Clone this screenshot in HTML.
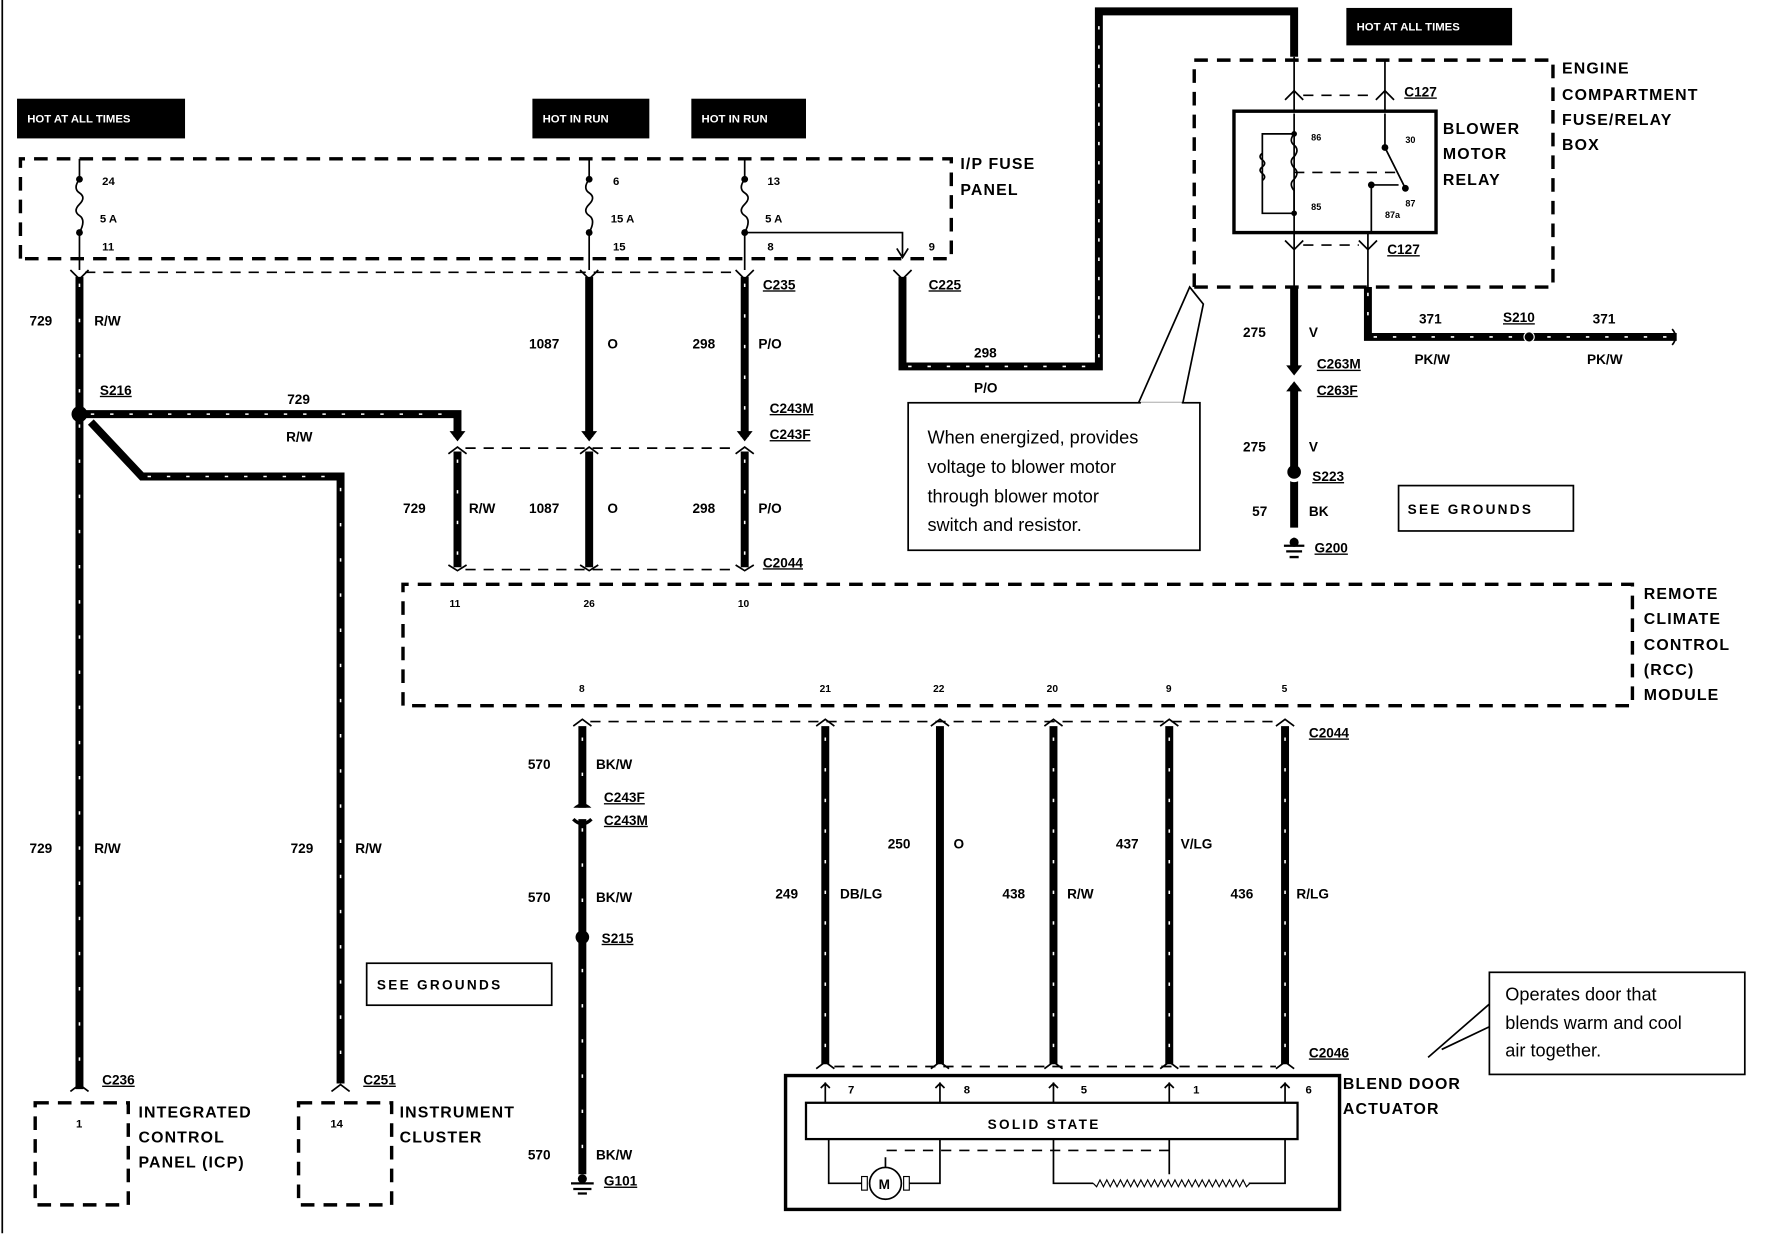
<!DOCTYPE html>
<html><head><meta charset="utf-8"><style>
html,body{margin:0;padding:0;background:#fff}
svg{display:block}
text{font-family:"Liberation Sans",sans-serif;font-weight:bold;fill:#000}
.w{fill:none;stroke:#000;stroke-width:7}
.h{fill:none;stroke:#fff;stroke-width:1.4;stroke-dasharray:3 14}
.t{fill:none;stroke:#000;stroke-width:1.5}
.d{fill:none;stroke:#000;stroke-width:3;stroke-dasharray:12 8}
.dd{fill:none;stroke:#000;stroke-width:1.5;stroke-dasharray:9 7}
.s{font-size:12px}
.xs{font-size:10px}
.u{text-decoration:underline}
.lb{font-size:14px;letter-spacing:1px}
.n{font-family:"Liberation Sans",sans-serif;font-weight:normal;font-size:16px}
</style></head><body>
<svg width="1780" height="1248" viewBox="0 0 1568 1100" preserveAspectRatio="none" xmlns="http://www.w3.org/2000/svg">
<line x1="2" y1="0" x2="2" y2="1087" class="t"/>
<rect x="15" y="87" width="148" height="35" fill="#000"/><text x="24" y="108" class="xs" style="fill:#fff">HOT AT ALL TIMES</text>
<rect x="469" y="87" width="103" height="35" fill="#000"/><text x="478" y="108" class="xs" style="fill:#fff">HOT IN RUN</text>
<rect x="609" y="87" width="101" height="35" fill="#000"/><text x="618" y="108" class="xs" style="fill:#fff">HOT IN RUN</text>
<rect x="1186" y="7" width="146" height="33" fill="#000"/><text x="1195" y="27" class="xs" style="fill:#fff">HOT AT ALL TIMES</text>
<path d="M18 228 V140 H838 V228 H18" class="d"/>
<text x="846" y="149" class="lb">I/P FUSE</text><text x="846" y="172" class="lb">PANEL</text>
<g>
<path d="M70 140 V158 q-6 8 0 12 q6 4 0 10 q-6 6 0 10 q6 4 0 15 V238" class="t"/>
<path d="M519 140 V158 q-6 8 0 12 q6 4 0 10 q-6 6 0 10 q6 4 0 15 V238" class="t"/>
<path d="M656 140 V158 q-6 8 0 12 q6 4 0 10 q-6 6 0 10 q6 4 0 15 V238" class="t"/>
<circle cx="70" cy="158" r="3"/><circle cx="70" cy="205" r="3"/>
<circle cx="519" cy="158" r="3"/><circle cx="519" cy="205" r="3"/>
<circle cx="656" cy="158" r="3"/><circle cx="656" cy="205" r="3"/>
<path d="M656 205 H795 V226 M790 219 L795 227 L800 219" class="t"/>
<text x="90" y="163" class="xs">24</text><text x="88" y="196" class="xs">5 A</text><text x="90" y="221" class="xs">11</text>
<text x="540" y="163" class="xs">6</text><text x="538" y="196" class="xs">15 A</text><text x="540" y="221" class="xs">15</text>
<text x="676" y="163" class="xs">13</text><text x="674" y="196" class="xs">5 A</text><text x="676" y="221" class="xs">8</text>
<text x="818" y="221" class="xs">9</text>
</g>
<line x1="75" y1="240" x2="650" y2="240" class="dd"/>
<g class="t"><path d="M62 238 l8 8 l8 -8"/><path d="M511 238 l8 8 l8 -8"/><path d="M648 238 l8 8 l8 -8"/><path d="M787 238 l8 8 l8 -8"/></g>
<text x="672" y="255" class="s u">C235</text><text x="818" y="255" class="s u">C225</text>
<path d="M70 244 V960" class="w"/><path d="M70 250 V955" class="h" style="stroke-dasharray:3 28"/>
<path d="M519 244 V385" class="w"/><path d="M519 398 V500" class="w"/>
<path d="M656 244 V385" class="w"/><path d="M656 250 V385" class="h" style="stroke-dasharray:3 24"/>
<path d="M656 398 V500" class="w"/><path d="M656 405 V500" class="h" style="stroke-dasharray:3 24"/>
<path d="M403 398 V500" class="w"/><path d="M403 405 V500" class="h" style="stroke-dasharray:3 24"/>
<g fill="#000"><path d="M512 380 h14 l-7 9z"/><path d="M649 380 h14 l-7 9z"/><path d="M396 380 h14 l-7 9z"/></g>
<line x1="410" y1="395" x2="650" y2="395" class="dd"/>
<g class="t"><path d="M395 400 l8 -6 l8 6"/><path d="M511 400 l8 -6 l8 6"/><path d="M648 400 l8 -6 l8 6"/><path d="M395 498 l8 5 l8 -5"/><path d="M511 498 l8 5 l8 -5"/><path d="M648 498 l8 5 l8 -5"/></g>
<line x1="410" y1="502" x2="650" y2="502" class="dd"/>
<circle cx="70" cy="365" r="7"/>
<path d="M74 365 H403 V385" class="w"/><path d="M80 365 H400" class="h"/>
<path d="M80 372 L125 420 H300 V955" class="w"/><path d="M130 420 H296" class="h"/><path d="M300 430 V950" class="h" style="stroke-dasharray:3 28"/>
<path d="M795 244 V323 H968 V10 H1140 V50" class="w"/><path d="M800 323 H963 M968 315 V15 H1135" class="h"/>
<text x="26" y="287" class="s">729</text><text x="83" y="287" class="s">R/W</text>
<text x="88" y="348" class="s u">S216</text>
<text x="253" y="356" class="s">729</text><text x="252" y="389" class="s">R/W</text>
<text x="466" y="307" class="s">1087</text><text x="535" y="307" class="s">O</text>
<text x="610" y="307" class="s">298</text><text x="668" y="307" class="s">P/O</text>
<text x="678" y="364" class="s u">C243M</text><text x="678" y="387" class="s u">C243F</text>
<text x="355" y="452" class="s">729</text><text x="413" y="452" class="s">R/W</text>
<text x="466" y="452" class="s">1087</text><text x="535" y="452" class="s">O</text>
<text x="610" y="452" class="s">298</text><text x="668" y="452" class="s">P/O</text>
<text x="672" y="500" class="s u">C2044</text>
<text x="858" y="315" class="s">298</text><text x="858" y="346" class="s">P/O</text>
<path d="M1052 253 V53 H1368 V253 H1052" class="d"/>
<text x="1376" y="65" class="lb">ENGINE</text><text x="1376" y="88" class="lb">COMPARTMENT</text><text x="1376" y="110" class="lb">FUSE/RELAY</text><text x="1376" y="132" class="lb">BOX</text>
<rect x="1087" y="98" width="178" height="107" fill="none" stroke="#000" stroke-width="3"/>
<text x="1271" y="118" class="lb">BLOWER</text><text x="1271" y="140" class="lb">MOTOR</text><text x="1271" y="163" class="lb">RELAY</text>
<path d="M1140 50 V98 M1220 53 V98" class="t"/>
<path d="M1132 88 l8 -8 l8 8 M1212 88 l8 -8 l8 8" class="t"/>
<line x1="1148" y1="84" x2="1212" y2="84" class="dd"/>
<text x="1237" y="85" class="s u">C127</text>
<path d="M1140 100 V205 M1140 118 H1112 V188 H1140" class="t"/>
<path d="M1140 118 q-5 6 0 10 q5 4 0 10 q-5 4 0 10 q5 4 0 10 q-5 4 0 10 V188" class="t"/>
<path d="M1112 135 q-4 3 0 6 q4 3 0 6 q-4 3 0 6 q4 3 0 6" class="t"/>
<circle cx="1140" cy="118" r="2.5"/><circle cx="1140" cy="188" r="2.5"/>
<path d="M1220 100 V130 L1238 166" class="t"/><circle cx="1220" cy="130" r="3"/><circle cx="1238" cy="166" r="3"/>
<line x1="1140" y1="152" x2="1230" y2="152" class="dd"/>
<path d="M1208 205 V163 M1208 163 H1232" class="t"/><circle cx="1208" cy="163" r="3"/>
<text x="1155" y="124" style="font-size:8px">86</text><text x="1238" y="126" style="font-size:8px">30</text>
<text x="1155" y="185" style="font-size:8px">85</text><text x="1238" y="182" style="font-size:8px">87</text><text x="1220" y="192" style="font-size:8px">87a</text>
<path d="M1140 205 V253 M1205 205 V253" class="t"/>
<path d="M1132 212 l8 8 l8 -8 M1197 212 l8 8 l8 -8" class="t"/>
<line x1="1148" y1="216" x2="1197" y2="216" class="dd"/>
<text x="1222" y="224" class="s u">C127</text>
<path d="M1140 253 V325" class="w"/><path d="M1140 340 V465" class="w"/>
<path d="M1133 322 h14 l-7 9z"/><path d="M1133 345 h14 l-7 -9z"/>
<circle cx="1140" cy="418" r="7" fill="#fff"/><circle cx="1140" cy="416" r="6"/>
<path d="M1205 253 V297 H1477" class="w"/><path d="M1205 258 V292 M1210 297 H1470" class="h"/>
<circle cx="1347" cy="297" r="5" fill="#fff"/><circle cx="1347" cy="297" r="4"/>
<path d="M1473 290 q6 7 0 14" class="t"/>
<text x="1095" y="297" class="s">275</text><text x="1153" y="297" class="s">V</text>
<text x="1160" y="325" class="s u">C263M</text><text x="1160" y="348" class="s u">C263F</text>
<text x="1095" y="398" class="s">275</text><text x="1153" y="398" class="s">V</text>
<text x="1156" y="424" class="s u">S223</text>
<text x="1103" y="455" class="s">57</text><text x="1153" y="455" class="s">BK</text>
<path d="M1131 481 h18 M1133 486 h14 M1136 491 h8 M1140 474 V481" class="t" style="stroke-width:2"/><circle cx="1140" cy="478" r="4"/>
<text x="1158" y="487" class="s u">G200</text>
<text x="1250" y="285" class="s">371</text><text x="1324" y="284" class="s u">S210</text><text x="1403" y="285" class="s">371</text>
<text x="1246" y="321" class="s">PK/W</text><text x="1398" y="321" class="s">PK/W</text>
<rect x="1232" y="428" width="154" height="40" fill="none" stroke="#000" stroke-width="1.5"/><text x="1240" y="453" class="s" style="letter-spacing:2px">SEE GROUNDS</text>
<path d="M1003 355 L1048 253 L1060 268 L1042 355" class="t"/>
<rect x="800" y="355" width="257" height="130" fill="#fff" stroke="#000" stroke-width="1.5"/>
<path d="M1005 356 H1041" stroke="#fff" stroke-width="3"/>
<text x="817" y="391" class="n">When energized, provides</text>
<text x="817" y="417" class="n">voltage to blower motor</text>
<text x="817" y="443" class="n">through  blower motor</text>
<text x="817" y="468" class="n">switch and resistor.</text>
<path d="M355 622 V515 H1438 V622 H355" class="d"/>
<text x="1448" y="528" class="lb">REMOTE</text><text x="1448" y="550" class="lb">CLIMATE</text><text x="1448" y="573" class="lb">CONTROL</text><text x="1448" y="595" class="lb">(RCC)</text><text x="1448" y="617" class="lb">MODULE</text>
<g style="font-size:9px"><text x="396" y="535">11</text><text x="514" y="535">26</text><text x="650" y="535">10</text>
<text x="510" y="610">8</text><text x="722" y="610">21</text><text x="822" y="610">22</text><text x="922" y="610">20</text><text x="1027" y="610">9</text><text x="1129" y="610">5</text></g>
<line x1="520" y1="636" x2="1126" y2="636" class="dd"/>
<g class="t"><path d="M505 640 l8 -6 l8 6"/><path d="M719 640 l8 -6 l8 6"/><path d="M820 640 l8 -6 l8 6"/><path d="M920 640 l8 -6 l8 6"/><path d="M1022 640 l8 -6 l8 6"/><path d="M1124 640 l8 -6 l8 6"/></g>
<text x="1153" y="650" class="s u">C2044</text>
<path d="M513 640 V712 M513 722 V1035" class="w"/><path d="M513 650 V705 M513 730 V1030" class="h" style="stroke-dasharray:3 28"/>
<path d="M505 712 q8 -8 16 0 z"/><path d="M505 722 q8 8 16 0" class="t" style="stroke-width:3"/>
<circle cx="513" cy="826" r="6"/>
<path d="M727 640 V938 M828 640 V938 M928 640 V938 M1030 640 V938 M1132 640 V938" class="w"/>
<path d="M727 650 V935 M928 650 V935 M1030 650 V935 M1132 650 V935" class="h" style="stroke-dasharray:3 24"/>
<text x="465" y="678" class="s">570</text><text x="525" y="678" class="s">BK/W</text>
<text x="532" y="707" class="s u">C243F</text><text x="532" y="727" class="s u">C243M</text>
<text x="465" y="795" class="s">570</text><text x="525" y="795" class="s">BK/W</text>
<text x="530" y="831" class="s u">S215</text>
<text x="465" y="1022" class="s">570</text><text x="525" y="1022" class="s">BK/W</text>
<path d="M503 1043 h20 M505 1048 h16 M509 1052 h8" class="t" style="stroke-width:2"/><circle cx="513" cy="1039" r="4"/>
<text x="532" y="1045" class="s u">G101</text>
<text x="683" y="792" class="s">249</text><text x="740" y="792" class="s">DB/LG</text>
<text x="782" y="748" class="s">250</text><text x="840" y="748" class="s">O</text>
<text x="883" y="792" class="s">438</text><text x="940" y="792" class="s">R/W</text>
<text x="983" y="748" class="s">437</text><text x="1040" y="748" class="s">V/LG</text>
<text x="1084" y="792" class="s">436</text><text x="1142" y="792" class="s">R/LG</text>
<text x="1153" y="932" class="s u">C2046</text>
<line x1="735" y1="940" x2="1124" y2="940" class="dd"/>
<g class="t"><path d="M719 942 l8 -6 l8 6"/><path d="M820 942 l8 -6 l8 6"/><path d="M920 942 l8 -6 l8 6"/><path d="M1022 942 l8 -6 l8 6"/><path d="M1124 942 l8 -6 l8 6"/></g>
<rect x="692" y="948" width="488" height="118" fill="none" stroke="#000" stroke-width="3"/>
<text x="1183" y="960" class="lb">BLEND DOOR</text><text x="1183" y="982" class="lb">ACTUATOR</text>
<g class="t"><path d="M727 954 V972 M723 959 l4 -4 l4 4"/><path d="M828 954 V972 M824 959 l4 -4 l4 4"/><path d="M928 954 V972 M924 959 l4 -4 l4 4"/><path d="M1030 954 V972 M1026 959 l4 -4 l4 4"/><path d="M1132 954 V972 M1128 959 l4 -4 l4 4"/></g>
<g style="font-size:10px"><text x="747" y="964">7</text><text x="849" y="964">8</text><text x="952" y="964">5</text><text x="1051" y="964">1</text><text x="1150" y="964">6</text></g>
<rect x="710" y="972" width="433" height="32" fill="none" stroke="#000" stroke-width="2"/>
<text x="870" y="995" class="s" style="letter-spacing:2px">SOLID STATE</text>
<path d="M730 1004 V1043 H760 M828 1004 V1043 H800 M928 1004 V1043 H963 M1132 1004 V1043 H1100 M1030 1004 V1035" class="t"/>
<circle cx="780" cy="1043" r="14" fill="#fff" stroke="#000" stroke-width="1.5"/><rect x="759" y="1037" width="5" height="12" fill="#fff" stroke="#000"/><rect x="796" y="1037" width="5" height="12" fill="#fff" stroke="#000"/>
<text x="774" y="1048" class="s">M</text>
<path d="M780 1029 V1014 H1030" class="dd"/>
<path d="M963 1043 l3 3 l3 -6 l3 6 l3 -6 l3 6 l3 -6 l3 6 l3 -6 l3 6 l3 -6 l3 6 l3 -6 l3 6 l3 -6 l3 6 l3 -6 l3 6 l3 -6 l3 6 l3 -6 l3 6 l3 -6 l3 6 l3 -6 l3 6 l3 -6 l3 6 l3 -6 l3 6 l3 -6 l3 6 l3 -6 l3 6 l3 -6 l3 6 l3 -6 l3 6 l3 -6 l3 6 l3 -6 l3 6 l3 -6 l3 6 l3 -6 l3 6 l3 -3" class="t" style="stroke-width:1"/>
<path d="M1258 932 L1312 885 M1270 925 L1312 905" class="t"/>
<rect x="1312" y="857" width="225" height="90" fill="#fff" stroke="#000" stroke-width="1.5"/>
<text x="1326" y="882" class="n">Operates door that</text><text x="1326" y="907" class="n">blends warm and cool</text><text x="1326" y="931" class="n">air together.</text>
<rect x="323" y="849" width="163" height="37" fill="none" stroke="#000" stroke-width="1.5"/><text x="332" y="872" class="s" style="letter-spacing:2px">SEE GROUNDS</text>
<g class="t"><path d="M62 962 l8 -6 l8 6"/><path d="M292 962 l8 -6 l8 6"/></g>
<text x="90" y="956" class="s u">C236</text><text x="320" y="956" class="s u">C251</text>
<path d="M31 972 H113 V1062 H31 Z" class="d"/><path d="M263 972 H345 V1062 H263 Z" class="d"/>
<text x="67" y="994" class="xs">1</text><text x="291" y="994" class="xs">14</text>
<text x="122" y="985" class="lb">INTEGRATED</text><text x="122" y="1007" class="lb">CONTROL</text><text x="122" y="1029" class="lb">PANEL (ICP)</text>
<text x="352" y="985" class="lb">INSTRUMENT</text><text x="352" y="1007" class="lb">CLUSTER</text>
<text x="26" y="752" class="s">729</text><text x="83" y="752" class="s">R/W</text>
<text x="256" y="752" class="s">729</text><text x="313" y="752" class="s">R/W</text>
</svg>
</body></html>
